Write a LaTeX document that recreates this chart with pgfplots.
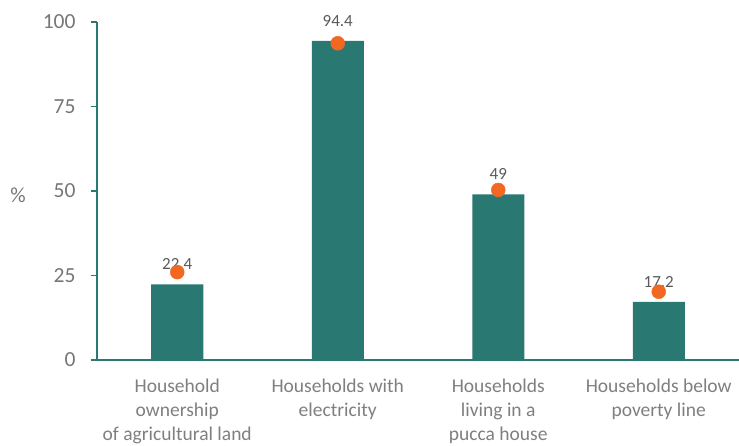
\documentclass[border=0pt]{standalone}
\usepackage{pgfplots}
\pgfplotsset{compat=1.18}
\usepackage{fontspec}
\setmainfont{Carlito}
\definecolor{barteal}{HTML}{2A7872}
\definecolor{dotorange}{HTML}{F26722}
\definecolor{tickgrey}{HTML}{767676}
\definecolor{labgrey}{HTML}{7F7F7F}
\definecolor{valgrey}{HTML}{595959}

\begin{document}
\begin{tikzpicture}
\begin{axis}[
  scale only axis,
  width=642pt, height=338pt,
  xmin=-0.5, xmax=3.5,
  ymin=0, ymax=100,
  axis lines*=left,
  axis line style={barteal, line width=1.6pt},
  ytick={0,25,50,75,100},
  xtick={0,1,2,3},
  xticklabels={Household\\ownership\\of agricultural land,
    Households with\\electricity,
    Households\\living in a\\pucca house,
    Households below\\poverty line},
  major x tick style={draw=none},
  major y tick style={barteal, line width=1.6pt},
  tick align=outside,
  major tick length=6pt,
  /pgf/number format/assume math mode=true,
  yticklabel style={font=\fontsize{21.5}{24}\selectfont, text=tickgrey, xshift=-12pt},
  xticklabel style={font=\fontsize{19.5}{24}\selectfont, text=labgrey, align=center, anchor=north, yshift=-9pt},
  ylabel={\%},
  ylabel style={rotate=-90, at={(rel axis cs:0,0.5)}, anchor=center, xshift=-79pt, yshift=-4pt,
    font=\fontsize{21.5}{24}\selectfont, text=tickgrey},
  clip=false,
]
\addplot[ybar, bar width=52pt, fill=barteal, draw=none,
  nodes near coords,
  every node near coord/.append style={font=\fontsize{17}{20}\selectfont, text=valgrey, anchor=center, yshift=20pt}]
  coordinates {(0,22.4) (1,94.4) (2,49) (3,17.2)};
\addplot[only marks, mark=*, mark size=7pt, color=dotorange]
  coordinates {(0,26.0) (1,93.7) (2,50.3) (3,20.2)};
\end{axis}
\pgfresetboundingbox
\path ([xshift=-97pt,yshift=-85pt]current axis.south west) rectangle ([yshift=22pt]current axis.north east);
\end{tikzpicture}
\end{document}
